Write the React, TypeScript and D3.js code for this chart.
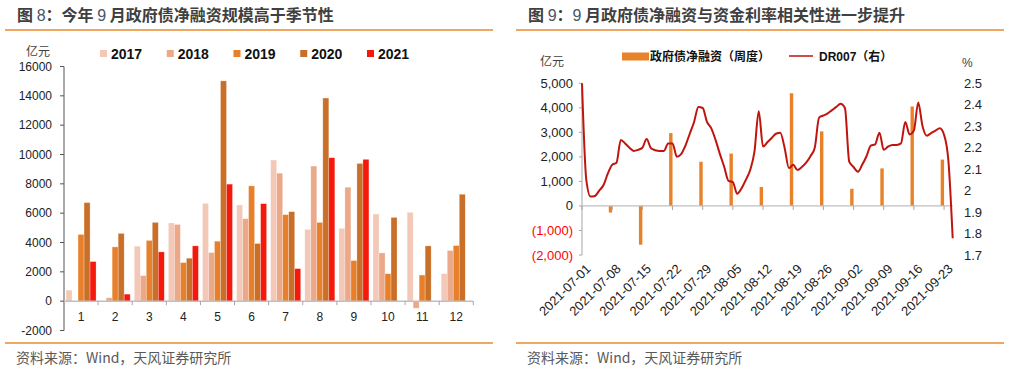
import React from "react";
import * as d3 from "d3";

// ---------- Chart 8 data ----------
const months = ["1", "2", "3", "4", "5", "6", "7", "8", "9", "10", "11", "12"];
const years = ["2017", "2018", "2019", "2020", "2021"];
const v2017 = [750, -60, 3750, 5330, 6670, 6560, 9620, 4890, 4960, 5940, 6060, 1870];
const v2018 = [0, 230, 1740, 5230, 3310, 5620, 8730, 9210, 7770, 3290, -480, 3450];
const v2019 = [4550, 3700, 4140, 2630, 4090, 7860, 5900, 5370, 2770, 1870, 1780, 3790];
const v2020 = [6720, 4620, 5370, 2930, 15020, 3930, 6100, 13850, 9390, 5710, 3770, 7290];
const v2021 = [2700, 480, 3360, 3770, 7980, 6650, 2220, 9780, 9670, null, null, null];
const yearColors = ["#F3C8B7", "#EBA98A", "#E8802B", "#C96F27", "#F5190C"];
const leftTicks = [-2000, 0, 2000, 4000, 6000, 8000, 10000, 12000, 14000, 16000];

// ---------- Chart 9 data ----------
const weekDates = [
  "2021-07-08", "2021-07-15", "2021-07-22", "2021-07-29", "2021-08-05", "2021-08-12",
  "2021-08-19", "2021-08-26", "2021-09-02", "2021-09-09", "2021-09-16", "2021-09-23",
];
const govNet = [-270, -1580, 2970, 1800, 2135, 770, 4595, 3040, 700, 1530, 4054, 1890];
const drStart = "2021-07-01";
const dr007 = [
  2.5, 2.05, 1.972, 1.975, 2.0, 2.026, 2.08, 2.12, 2.13, 2.236,
  2.22, 2.2, 2.185, 2.19, 2.2, 2.24, 2.197, 2.188, 2.185, 2.185,
  2.22, 2.22, 2.158, 2.17, 2.21, 2.265, 2.32, 2.39, 2.385, 2.32,
  2.29, 2.235, 2.17, 2.11, 2.045, 2.04, 1.985, 2.01, 2.05, 2.095,
  2.18, 2.37, 2.205, 2.225, 2.245, 2.265, 2.27, 2.2, 2.105, 2.12,
  2.096, 2.11, 2.13, 2.16, 2.2, 2.34, 2.35, 2.36, 2.375, 2.39,
  2.405, 2.385, 2.135, 2.11, 2.088, 2.12, 2.16, 2.21, 2.215, 2.27,
  2.19, 2.205, 2.213, 2.213, 2.22, 2.32, 2.262, 2.28, 2.41, 2.3,
  2.256, 2.268, 2.28, 2.29, 2.26, 2.14, 1.778,
];
const xTickDates = [
  "2021-07-01", "2021-07-08", "2021-07-15", "2021-07-22", "2021-07-29", "2021-08-05",
  "2021-08-12", "2021-08-19", "2021-08-26", "2021-09-02", "2021-09-09", "2021-09-16",
  "2021-09-23",
];
const xEnd = "2021-09-25";
const leftTicks9 = [-2000, -1000, 0, 1000, 2000, 3000, 4000, 5000];
const rightTicks9 = [1.7, 1.8, 1.9, 2.0, 2.1, 2.2, 2.3, 2.4, 2.5];

const FONT = "'Liberation Sans', Arial, 'Noto Sans CJK SC', sans-serif";
const CJK = "'Noto Sans CJK SC', 'Liberation Sans', sans-serif";
const ORANGE_LINE = "#E8882D";

function Chart8() {
  const series = [v2017, v2018, v2019, v2020, v2021];
  const x0 = d3.scaleBand<string>().domain(months).range([64, 473.3]).padding(0);
  const x1 = d3.scaleBand<string>().domain(years).range([0, x0.bandwidth()]).paddingInner(0).paddingOuter(0.34);
  const y = d3.scaleLinear().domain([-2000, 16000]).range([330.5, 66.5]);
  const y0 = y(0);
  return (
    <g>
      <text x={17} y={21} fontFamily={CJK} fontWeight="bold" fontSize={16} fill="#404040">
        图 <tspan fill="#4A5566" fontWeight="normal" fontFamily={FONT}>8</tspan>：今年 <tspan fill="#4A5566" fontWeight="normal" fontFamily={FONT}>9</tspan> 月政府债净融资规模高于季节性
      </text>
      <line x1={5} x2={493} y1={30} y2={30} stroke={ORANGE_LINE} strokeWidth={1.3} />
      <text x={26} y={56} fontFamily={CJK} fontSize={12} fill="#404040">亿元</text>
      {years.map((yr, i) => (
        <g key={yr}>
          <rect x={100 + i * 66.75} y={50} width={7} height={7} fill={yearColors[i]} />
          <text x={111 + i * 66.75} y={58.5} fontFamily={FONT} fontWeight="bold" fontSize={14} fill="#111">{yr}</text>
        </g>
      ))}
      {/* y axis */}
      <line x1={64} x2={64} y1={66.5} y2={330.5} stroke="#555" strokeWidth={1} />
      {leftTicks.map((t) => (
        <g key={t}>
          <line x1={60} x2={64} y1={y(t)} y2={y(t)} stroke="#555" />
          <text x={52} y={y(t)} dy="0.35em" textAnchor="end" fontFamily={FONT} fontSize={12} fill="#222">{t}</text>
        </g>
      ))}
      {/* bars */}
      {months.map((m, mi) => (
        <g key={m}>
          {series.map((s, si) => {
            const v = s[mi];
            if (v === null || v === undefined) return null;
            const bx = (x0(m) as number) + (x1(years[si]) as number);
            const top = Math.min(y(v), y0);
            const h = Math.abs(y(v) - y0);
            return (
              <rect key={si} x={bx} y={top} width={x1.bandwidth()} height={h} fill={yearColors[si]}
                stroke="#fff" strokeOpacity={0.45} strokeWidth={0.6} />
            );
          })}
        </g>
      ))}
      {/* x axis */}
      <line x1={64} x2={473.3} y1={y0} y2={y0} stroke="#BFBFBF" strokeWidth={1.5} />
      {months.map((m) => (
        <g key={m}>
          <line x1={(x0(m) as number) + x0.bandwidth()} x2={(x0(m) as number) + x0.bandwidth()} y1={y0} y2={y0 + 4} stroke="#A6A6A6" />
          <text x={(x0(m) as number) + x0.bandwidth() / 2} y={321} textAnchor="middle" fontFamily={FONT} fontSize={12} fill="#222">{m}</text>
        </g>
      ))}
      <line x1={5} x2={493} y1={343} y2={343} stroke={ORANGE_LINE} strokeWidth={1.3} />
      <text x={16} y={363} fontFamily={CJK} fontSize={14} fill="#595959">资料来源：Wind，天风证券研究所</text>
    </g>
  );
}

function Chart9() {
  const parse = d3.timeParse("%Y-%m-%d");
  const fmt = d3.timeFormat("%Y-%m-%d");
  const start = parse(drStart) as Date;
  const end = parse(xEnd) as Date;
  const x = d3.scaleTime().domain([start, end]).range([582, 952.7]);
  const yL = d3.scaleLinear().domain([-2000, 5000]).range([255, 83.3]);
  const yR = d3.scaleLinear().domain([1.7, 2.5]).range([255, 83.3]);
  const y0 = yL(0);
  const drPoints = dr007.map((v, i) => ({ d: d3.timeDay.offset(start, i), v }));
  const line = d3.line<{ d: Date; v: number }>().x((p) => x(p.d)).y((p) => yR(p.v)).curve(d3.curveMonotoneX);
  const barW = 3.4;
  const fmtL = (v: number) => (v < 0 ? `(${d3.format(",")(-v)})` : d3.format(",")(v));
  return (
    <g>
      <text x={528} y={21} fontFamily={CJK} fontWeight="bold" fontSize={16} fill="#404040">
        图 <tspan fill="#4A5566" fontWeight="normal" fontFamily={FONT}>9</tspan>：<tspan fill="#4A5566" fontWeight="normal" fontFamily={FONT}>9</tspan> 月政府债净融资与资金利率相关性进一步提升
      </text>
      <line x1={516} x2={1004} y1={30} y2={30} stroke={ORANGE_LINE} strokeWidth={1.3} />
      {/* legend */}
      <rect x={622} y={52.5} width={27} height={8} fill="#E8822A" />
      <text x={650} y={61} fontFamily={CJK} fontWeight="bold" fontSize={12} fill="#111">政府债净融资（周度）</text>
      <line x1={789} x2={813} y1={56} y2={56} stroke="#C0100C" strokeWidth={1.5} />
      <text x={819} y={61} fontFamily={FONT} fontWeight="bold" fontSize={12} fill="#111">DR007（右）</text>
      <text x={540} y={66} fontFamily={CJK} fontSize={12} fill="#404040">亿元</text>
      <text x={962} y={67} fontFamily={FONT} fontSize={12} fill="#404040">%</text>
      {/* left axis */}
      <line x1={582} x2={582} y1={83.3} y2={255} stroke="#A6A6A6" />
      {leftTicks9.map((t) => (
        <g key={t}>
          <line x1={579} x2={582} y1={yL(t)} y2={yL(t)} stroke="#A6A6A6" />
          <text x={573} y={yL(t)} dy="0.35em" textAnchor="end" fontFamily={FONT} fontSize={13} fill={t < 0 ? "#FF0000" : "#222"}>{fmtL(t)}</text>
        </g>
      ))}
      {rightTicks9.map((t) => (
        <text key={t} x={964} y={yR(t)} dy="0.35em" fontFamily={FONT} fontSize={13} fill="#222">{String(+t.toFixed(1))}</text>
      ))}
      {/* bars */}
      {weekDates.map((ds, i) => {
        const d = parse(ds) as Date;
        const v = govNet[i];
        return (
          <rect key={ds} x={x(d) - barW} y={Math.min(yL(v), y0)} width={barW} height={Math.abs(yL(v) - y0)} fill="#E8822A" />
        );
      })}
      {/* zero axis */}
      <line x1={582} x2={952.7} y1={y0} y2={y0} stroke="#BFBFBF" strokeWidth={1.3} />
      {xTickDates.map((ds) => {
        const d = parse(ds) as Date;
        const tx = x(d);
        return (
          <g key={ds}>
            <line x1={tx} x2={tx} y1={y0} y2={y0 + 4} stroke="#A6A6A6" />
            <text transform={`translate(${tx + 3},${263}) rotate(-45)`} dy="0.71em" textAnchor="end" fontFamily={FONT} fontSize={13} fill="#222">{fmt(d)}</text>
          </g>
        );
      })}
      <path d={line(drPoints) || ""} fill="none" stroke="#C0140E" strokeWidth={2} />
      <line x1={516} x2={1004} y1={343} y2={343} stroke={ORANGE_LINE} strokeWidth={1.3} />
      <text x={527} y={363} fontFamily={CJK} fontSize={14} fill="#595959">资料来源：Wind，天风证券研究所</text>
    </g>
  );
}

export default function App() {
  return (
    <div style={{ position: "absolute", left: 0, top: 0 }}>
      <svg width={1018} height={375} viewBox="0 0 1018 375" style={{ display: "block", background: "#fff" }}>
        <Chart8 />
        <Chart9 />
      </svg>
    </div>
  );
}
